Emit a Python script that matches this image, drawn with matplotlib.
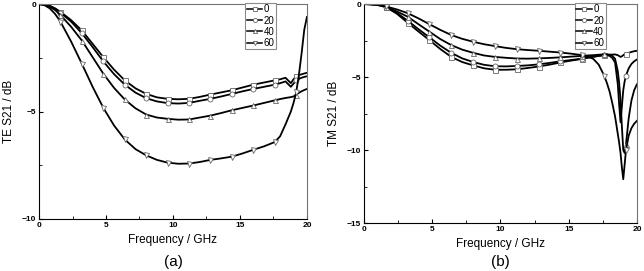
import matplotlib
matplotlib.use('Agg')
import matplotlib.pyplot as plt
import numpy as np
from matplotlib.ticker import MultipleLocator

plt.rcParams['font.family'] = ['Liberation Sans', 'DejaVu Sans']

# ---- data ----
labels = ['0', '20', '40', '60']
markers = ['s', 'o', '^', 'v']
marker_freqs = [1.6, 3.2, 4.8, 6.4, 8.0, 9.6, 11.2, 12.8, 14.4, 16.0, 17.6, 19.2]

# (a) TE
freq_a = [0, 0.4, 0.8, 1.2, 1.6, 2.4, 3.2, 4.0, 4.8, 5.6, 6.4, 7.2, 8.0, 8.8, 9.6, 10.4,
          11.2, 12.0, 12.8, 13.6, 14.4, 15.2, 16.0, 16.8, 17.6, 18.0, 18.4, 18.8, 19.0,
          19.2, 19.4, 19.6, 19.8, 20.0]
te_0 = [0, -0.02, -0.08, -0.2, -0.36, -0.75, -1.23, -1.85, -2.47, -3.05, -3.55, -3.92,
        -4.18, -4.34, -4.41, -4.43, -4.41, -4.32, -4.21, -4.11, -4.01, -3.88, -3.75, -3.65,
        -3.55, -3.5, -3.43, -3.68, -3.5, -3.36, -3.3, -3.27, -3.23, -3.2]
te_20 = [0, -0.02, -0.09, -0.22, -0.4, -0.82, -1.36, -2.0, -2.67, -3.26, -3.75, -4.12,
         -4.38, -4.53, -4.61, -4.63, -4.6, -4.5, -4.41, -4.3, -4.18, -4.06, -3.95, -3.85,
         -3.75, -3.68, -3.6, -3.85, -3.7, -3.55, -3.48, -3.43, -3.39, -3.36]
te_40 = [0, -0.03, -0.12, -0.28, -0.51, -1.06, -1.7, -2.47, -3.24, -3.9, -4.44, -4.85,
         -5.14, -5.28, -5.34, -5.38, -5.37, -5.28, -5.19, -5.07, -4.94, -4.83, -4.72, -4.6,
         -4.48, -4.42, -4.37, -4.33, -4.3, -4.22, -4.13, -4.06, -4.0, -3.95]
te_60 = [0, -0.05, -0.2, -0.46, -0.82, -1.75, -2.78, -3.85, -4.83, -5.65, -6.3, -6.75,
         -7.04, -7.25, -7.38, -7.43, -7.42, -7.35, -7.25, -7.18, -7.1, -6.95, -6.78, -6.62,
         -6.42, -6.15, -5.6, -5.0, -4.6, -4.1, -3.3, -2.3, -1.2, -0.6]

# (b) TM
freq_b = [0, 0.4, 0.8, 1.2, 1.6, 2.4, 3.2, 4.0, 4.8, 5.6, 6.4, 7.2, 8.0, 8.8, 9.6, 10.4,
          11.2, 12.0, 12.8, 13.6, 14.4, 15.2, 16.0, 16.4, 16.8, 17.2, 17.6, 17.8, 18.0,
          18.2, 18.4, 18.6, 18.7, 18.8, 18.9, 19.0, 19.1, 19.2, 19.4, 19.6, 19.8, 20.0]
tm_0 = [0, -0.01, -0.04, -0.1, -0.2, -0.65, -1.27, -1.88, -2.47, -3.08, -3.62, -3.97,
        -4.2, -4.4, -4.5, -4.5, -4.47, -4.38, -4.28, -4.15, -4.0, -3.87, -3.75, -3.68,
        -3.62, -3.55, -3.5, -3.48, -3.47, -3.46, -3.45, -3.5, -3.56, -3.62, -3.58, -3.5,
        -3.44, -3.4, -3.34, -3.28, -3.23, -3.2]
tm_20 = [0, -0.01, -0.04, -0.1, -0.2, -0.6, -1.13, -1.72, -2.28, -2.85, -3.34, -3.72,
         -3.97, -4.16, -4.26, -4.27, -4.24, -4.2, -4.13, -4.03, -3.92, -3.83, -3.74, -3.66,
         -3.6, -3.55, -3.5, -3.5, -3.55, -3.7, -4.0, -5.5, -6.9, -8.1, -7.0, -5.9, -5.3,
         -4.9, -4.4, -4.1, -3.92, -3.8]
tm_40 = [0, -0.01, -0.03, -0.08, -0.18, -0.5, -0.86, -1.38, -1.89, -2.4, -2.81, -3.12,
         -3.34, -3.52, -3.62, -3.68, -3.73, -3.74, -3.72, -3.69, -3.65, -3.6, -3.55, -3.52,
         -3.5, -3.47, -3.45, -3.45, -3.47, -3.55, -3.75, -4.6, -5.4, -6.6, -8.4, -10.0,
         -10.2, -9.6, -7.8, -6.6, -5.9, -5.5]
tm_60 = [0, -0.01, -0.03, -0.07, -0.16, -0.36, -0.62, -0.98, -1.38, -1.77, -2.12, -2.38,
         -2.58, -2.75, -2.88, -3.0, -3.09, -3.15, -3.2, -3.26, -3.32, -3.4, -3.5, -3.6,
         -3.75, -4.15, -4.9, -5.4, -6.0, -6.8, -7.7, -8.9, -9.5, -10.2, -11.2, -12.0,
         -11.0, -10.0, -9.0, -8.5, -8.2, -8.0]


def draw(ax, freq, series, ylabel, ymin):
    freq = np.array(freq)
    idx = [int(np.argmin(np.abs(freq - m))) for m in marker_freqs]
    for vals, mk, lab in zip(series, markers, labels):
        ax.plot(freq, vals, color='black', lw=1.3, marker=mk, markevery=idx, ms=3.6,
                mfc='white', mec='0.4', mew=0.6, label=lab)
    ax.set_xlim(0, 20)
    ax.set_ylim(ymin, 0)
    ax.xaxis.set_major_locator(MultipleLocator(5))
    ax.xaxis.set_minor_locator(MultipleLocator(2.5))
    ax.yaxis.set_major_locator(MultipleLocator(5))
    ax.yaxis.set_minor_locator(MultipleLocator(2.5))
    ax.tick_params(which='both', direction='in', labelsize=6, pad=2)
    ax.tick_params(which='major', length=3)
    ax.tick_params(which='minor', length=2)
    for t in ax.get_xticklabels() + ax.get_yticklabels():
        t.set_fontweight('bold')
    for s in ['top', 'right']:
        ax.spines[s].set_color('0.45')
    ax.set_xlabel('Frequency / GHz', fontsize=8.5, labelpad=4)
    ax.set_ylabel(ylabel, fontsize=8.5, labelpad=5)
    leg = ax.legend(loc='upper right', bbox_to_anchor=(0.885, 1.005), fontsize=7,
                    handlelength=1.6, handletextpad=0.15, labelspacing=0.12,
                    borderpad=0.15, borderaxespad=0, fancybox=False, framealpha=1)
    leg.get_frame().set_edgecolor('0.55')
    leg.get_frame().set_linewidth(0.8)
    for h in leg.get_lines():
        h.set_linewidth(1.1)
        h.set_markersize(3)


fig = plt.figure(figsize=(6.44, 2.71), dpi=100)
ax1 = fig.add_axes([0.0606, 0.192, 0.416, 0.793])
ax2 = fig.add_axes([0.565, 0.177, 0.424, 0.808])

draw(ax1, freq_a, [te_0, te_20, te_40, te_60], 'TE S21 / dB', -10)
draw(ax2, freq_b, [tm_0, tm_20, tm_40, tm_60], 'TM S21 / dB', -15)

fig.text(173 / 644, 1 - 262 / 271, '(a)', ha='center', va='center', fontsize=11)
fig.text(500 / 644, 1 - 262 / 271, '(b)', ha='center', va='center', fontsize=11)

fig.savefig('out.png', dpi=100)
